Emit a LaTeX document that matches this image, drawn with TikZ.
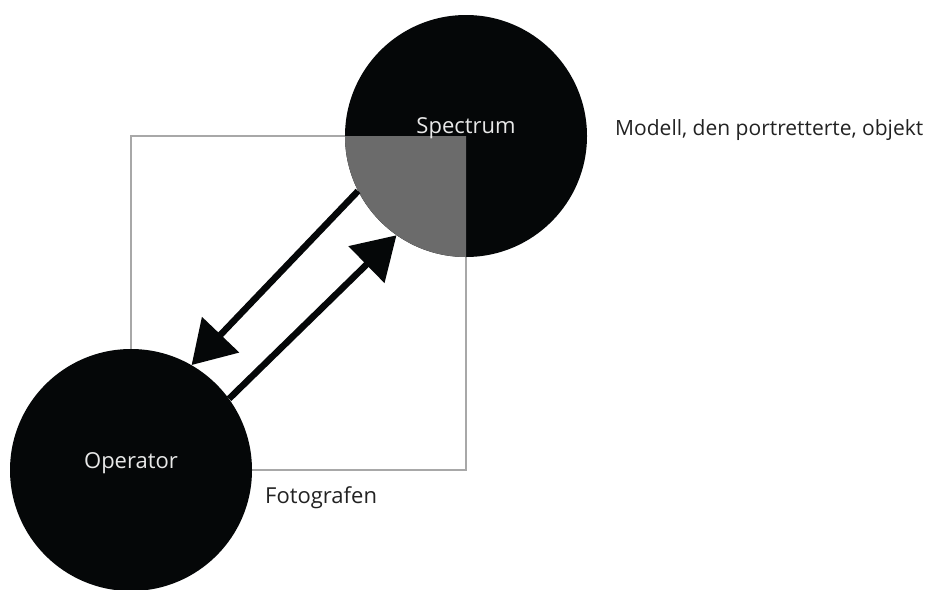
\documentclass[tikz,border=0pt]{standalone}
\usepackage{fontspec}
\setmainfont{Open Sans}
\usetikzlibrary{arrows.meta}
\definecolor{ink}{HTML}{050708}
\definecolor{overlapgray}{HTML}{6B6B6B}
\definecolor{framegray}{HTML}{A8A8A8}
\definecolor{labeltext}{HTML}{222222}
\definecolor{innertext}{HTML}{E8E8E8}
\tikzset{
  blob/.style={circle, fill=ink, minimum size=242pt, inner sep=0pt},
  innerlabel/.style={text=innertext, font=\fontsize{22}{26}\selectfont},
  sidelabel/.style={text=labeltext, anchor=west, font=\fontsize{22}{26}\selectfont, inner sep=0pt},
  flow/.style={draw=ink, line width=6.5pt, -{Triangle[length=42pt,width=50pt]}},
}
\begin{document}
\begin{tikzpicture}[x=1pt, y=-1pt]
  \useasboundingbox (0,0) rectangle (934,589);
  % the photograph frame, corners at the two circle centres
  \coordinate (tl) at (131,136);
  \coordinate (br) at (466,470);
  \draw[draw=framegray, line width=1.5pt] (tl) rectangle (br);
  % the two actors
  \node[blob] (spec) at (466,136) {};
  \node[blob] (oper) at (131,470) {};
  % overlap of the spectrum with the frame
  \begin{scope}
    \clip (tl) rectangle (br);
    \fill[overlapgray] (spec.center) circle[radius=121pt];
  \end{scope}
  \node[innerlabel] at (466,128) {Spectrum};
  \node[innerlabel] at (131,463) {Operator};
  % exchange between operator and spectrum
  \draw[flow] (spec.207.8) -- (oper.60.7);
  \draw[flow] (oper.36) -- (spec.235.8);
  % captions
  \node[sidelabel] at (265,498) {Fotografen};
  \node[sidelabel, font=\fontsize{21}{25}\selectfont] at (615,130) {Modell, den portretterte, objekt};
\end{tikzpicture}
\end{document}
